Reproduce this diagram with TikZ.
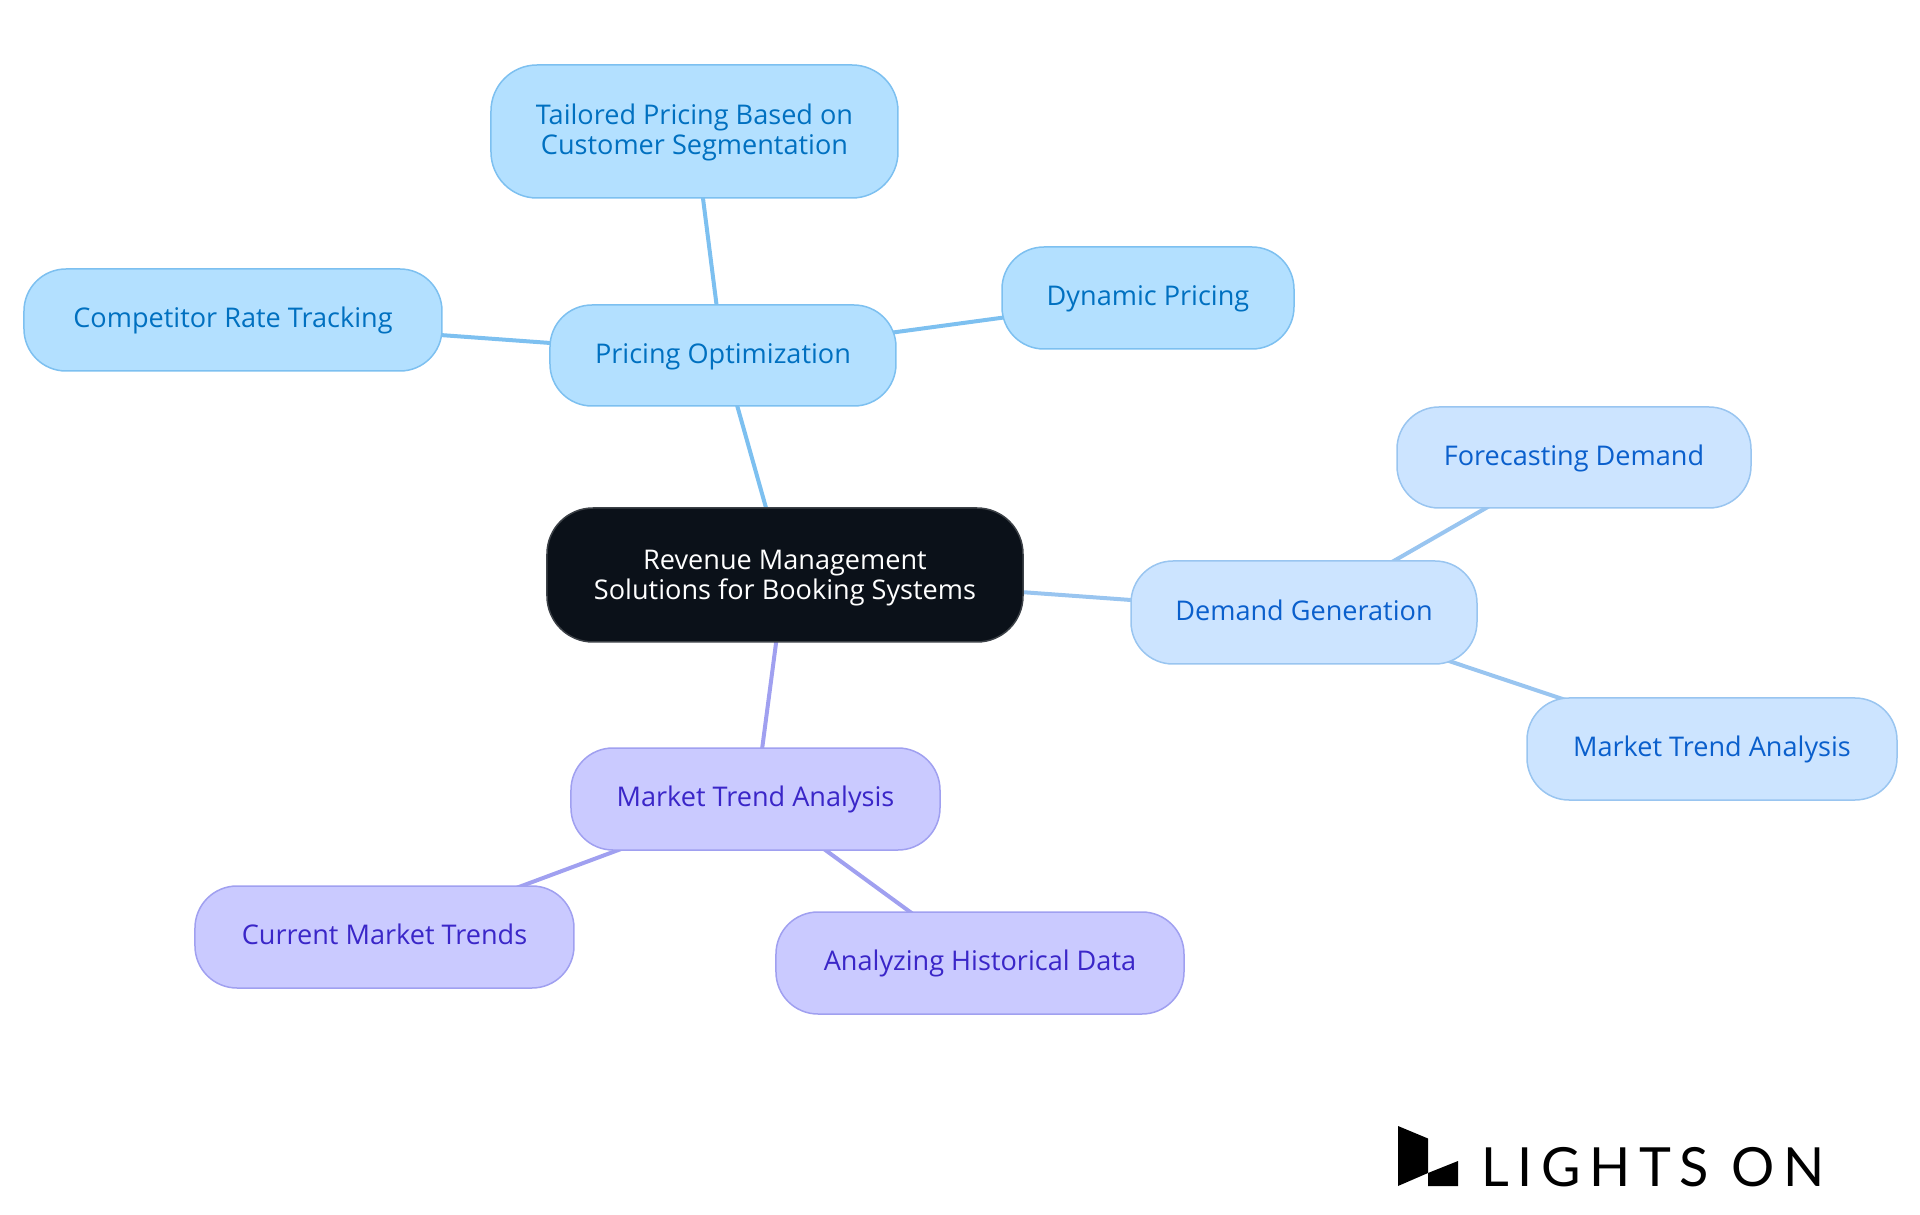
\documentclass[tikz,border=0pt]{standalone}
\usepackage{fontspec}
\setmainfont{Open Sans}
\newfontfamily\logofont[LetterSpace=16]{Lato}
\usetikzlibrary{positioning, backgrounds}

\definecolor{rootfill}{HTML}{0B1119}
\definecolor{rootline}{HTML}{3C4147}
\definecolor{pricefill}{HTML}{B3E0FF}
\definecolor{priceline}{HTML}{7DC0F0}
\definecolor{pricetext}{HTML}{0070C0}
\definecolor{demandfill}{HTML}{CCE4FF}
\definecolor{demandline}{HTML}{99C5F0}
\definecolor{demandtext}{HTML}{0A5FCC}
\definecolor{marketfill}{HTML}{CACAFF}
\definecolor{marketline}{HTML}{A0A0F0}
\definecolor{markettext}{HTML}{3A26C8}

\begin{document}
\begin{tikzpicture}[
    % Common box shape
    mapbox/.style={rectangle, rounded corners=42pt, draw, line width=1.5pt, outer sep=0pt,
        inner sep=0pt, align=center, font=\fontsize{27.1}{30.6}\selectfont},
    % Same text height in every one-line box
    oneline/.style={text height=21pt, text depth=5.5pt},
    % Colour groups
    rootbox/.style={mapbox, rounded corners=46pt, fill=rootfill, draw=rootline, text=white},
    pricebox/.style={mapbox, fill=pricefill, draw=priceline, text=pricetext},
    demandbox/.style={mapbox, fill=demandfill, draw=demandline, text=demandtext, oneline},
    marketbox/.style={mapbox, fill=marketfill, draw=marketline, text=markettext, oneline},
    % Branch lines
    branch/.style={line width=4pt}
]
    \useasboundingbox (-785pt,-640pt) rectangle (1135pt,575pt);

    % Root - reference node
    \node[rootbox, minimum width=476pt, minimum height=134pt, text height=56pt, text depth=6pt] (root) {Revenue Management\\Solutions for Booking Systems};

    % Pricing group
    \node[pricebox, oneline, minimum width=346pt, minimum height=101pt, above=102pt of root, xshift=-62pt] (pricing) {Pricing Optimization};
    \node[pricebox, rounded corners=46pt, minimum width=407pt, minimum height=133pt, above=107pt of pricing, xshift=-28.5pt, text height=53pt, text depth=6pt] (tailored) {Tailored Pricing Based on\\Customer Segmentation};
    \node[pricebox, oneline, minimum width=292pt, minimum height=102pt, right=106pt of pricing, yshift=57.5pt] (dynamic) {Dynamic Pricing};
    \node[pricebox, oneline, minimum width=418pt, minimum height=102pt, left=108pt of pricing, yshift=35.5pt] (competitor) {Competitor Rate Tracking};

    % Demand group
    \node[demandbox, minimum width=346pt, minimum height=103pt, right=108pt of root, yshift=-37.5pt] (demand) {Demand Generation};
    \node[demandbox, minimum width=354pt, minimum height=101pt, above=53pt of demand, xshift=270pt] (forecast) {Forecasting Demand};
    \node[demandbox, minimum width=370pt, minimum height=102pt, below=34pt of demand, xshift=408pt] (trendright) {Market Trend Analysis};

    % Market group
    \node[marketbox, minimum width=369pt, minimum height=102pt, below=106pt of root, xshift=-29.5pt] (market) {Market Trend Analysis};
    \node[marketbox, minimum width=379pt, minimum height=102pt, below=36pt of market, xshift=-371pt] (current) {Current Market Trends};
    \node[marketbox, minimum width=408pt, minimum height=102pt, below=62pt of market, xshift=224.5pt] (history) {Analyzing Historical Data};

    % Branches go behind the boxes
    \begin{scope}[on background layer]
        \draw[branch, priceline] (root.center) -- (pricing.center);
        \draw[branch, priceline] (pricing.center) -- (tailored.center);
        \draw[branch, priceline] (pricing.center) -- (dynamic.center);
        \draw[branch, priceline] (pricing.center) -- (competitor.center);
        \draw[branch, demandline] (root.center) -- (demand.center);
        \draw[branch, demandline] (demand.center) -- (forecast.center);
        \draw[branch, demandline] (demand.center) -- (trendright.center);
        \draw[branch, marketline] (root.center) -- (market.center);
        \draw[branch, marketline] (market.center) -- (current.center);
        \draw[branch, marketline] (market.center) -- (history.center);
    \end{scope}

    % Logo
    \fill (613pt,-551pt) -- (643pt,-563.5pt) -- (643pt,-598pt) -- (613pt,-611pt) -- cycle;
    \fill (643pt,-598pt) -- (673pt,-586pt) -- (673pt,-611pt) -- (643pt,-611pt) -- cycle;
    \node[anchor=base west, inner sep=0pt, font=\logofont\fontsize{54}{54}\selectfont] (logotext) at (696pt,-611pt) {LIGHTS ON};
\end{tikzpicture}
\end{document}
